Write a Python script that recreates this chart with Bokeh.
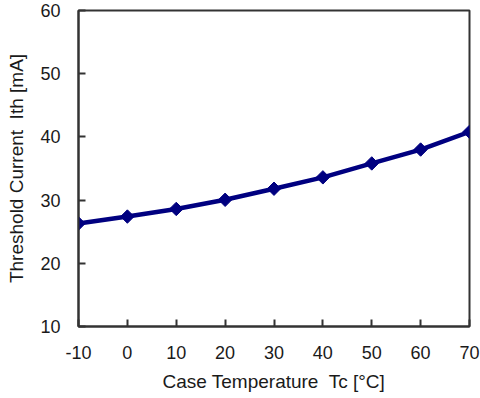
import math
from bokeh.plotting import figure
from bokeh.models import Range1d, FixedTicker
from bokeh.embed import file_html
from bokeh.resources import INLINE

temps = [-10, 0, 10, 20, 30, 40, 50, 60, 70]
ith = [26.3, 27.4, 28.6, 30.05, 31.8, 33.6, 35.8, 38.0, 40.8]
x_ticks = [-10, 0, 10, 20, 30, 40, 50, 60, 70]
x_tick_labels = ["-10", "0", "10", "20", "30", "40", "50", "60", "70"]
y_ticks = [10, 20, 30, 40, 50, 60]
y_tick_labels = ["10", "20", "30", "40", "50", "60"]

p = figure(width=480, height=398, output_backend="svg", toolbar_location=None,
           x_range=Range1d(-10, 70), y_range=Range1d(10, 60),
           min_border_left=78, min_border_right=11, min_border_top=10, min_border_bottom=72)

p.xgrid.visible = False
p.ygrid.visible = False
p.outline_line_color = "#333333"
p.outline_line_width = 2
p.outline_line_alpha = 1

p.line(temps, ith, line_color="#000080", line_width=4.5)
p.scatter(temps, ith, marker="square", angle=math.pi / 4, size=9.5,
          fill_color="#000080", line_color="#000080", line_width=1)

font = "Liberation Sans"
tc = "#1a1a1a"
for ax in (p.xaxis[0], p.yaxis[0]):
    ax.axis_line_color = "#333333"
    ax.axis_line_width = 2
    ax.major_tick_in = 7
    ax.major_tick_out = 0
    ax.major_tick_line_color = "#333333"
    ax.major_tick_line_width = 2
    ax.minor_tick_line_color = None
    ax.major_label_text_font = font
    ax.major_label_text_font_size = "18px"
    ax.major_label_text_color = tc
    ax.axis_label_text_font = font
    ax.axis_label_text_font_size = "19px"
    ax.axis_label_text_font_style = "normal"
    ax.axis_label_text_color = tc

p.xaxis.ticker = FixedTicker(ticks=x_ticks)
p.yaxis.ticker = FixedTicker(ticks=y_ticks)
p.xaxis.major_label_overrides = dict(zip(x_ticks, x_tick_labels))
p.yaxis.major_label_overrides = dict(zip(y_ticks, y_tick_labels))
p.xaxis.axis_label = "Case Temperature\u00a0 Tc [°C]"
p.yaxis.axis_label = "Threshold Current\u00a0 Ith [mA]"
p.xaxis.major_label_standoff = 19
p.yaxis.major_label_standoff = 18
p.xaxis.axis_label_standoff = 9
p.yaxis.axis_label_standoff = 10

open("out.html", "w").write(file_html(p, INLINE))
